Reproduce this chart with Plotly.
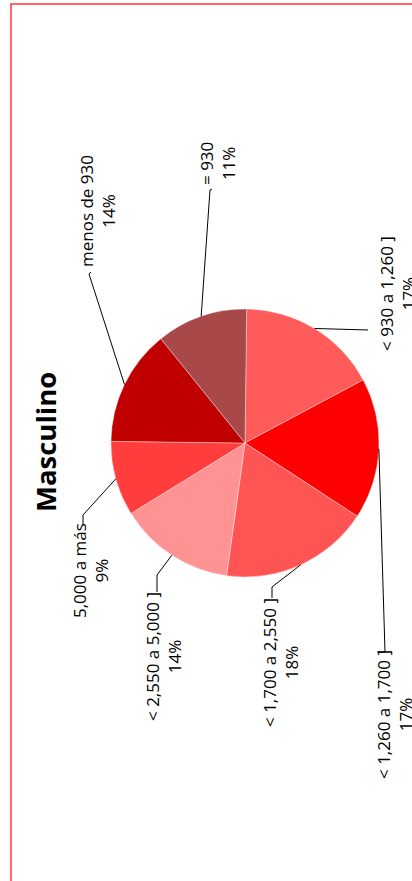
import math
import plotly.graph_objects as go

# ---- data (clockwise from 12 o'clock as drawn) ----
categories = ["< 930 a 1,260 ]", "< 1,260 a 1,700 ]", "< 1,700 a 2,550 ]",
              "< 2,550 a 5,000 ]", "5,000 a más", "menos de 930", "= 930"]
values = [17, 17, 18, 14, 9, 14, 11]
pct_labels = ["17%", "17%", "18%", "14%", "9%", "14%", "11%"]
title_text = "Masculino"

# ---- styling / layout ----
colors = ["#FF5B5B", "#FF0000", "#FF5454", "#FF9393", "#FF3D3D", "#C00000", "#A94848"]
W, H = 412, 881
CX, CY, R = 245, 443, 134          # pie centre / radius in page pixels
START = 0.7                         # start angle (deg, clockwise from 12 o'clock)

# label block centres (page px) and leader-line bends (page px), per slice
label_pos = [(398, 294), (394, 715), (280, 663), (163, 657), (90, 571), (98, 211), (217, 164)]
leader_bends = [
    [(368, 330)],
    [(385, 652), (377, 652)],
    [(272, 587), (272, 598)],
    [(157, 575), (157, 592)],
    [(83, 515), (83, 525)],
    [(89, 274), (91, 272)],
    [(210, 190), (212, 189)],
]


def px(x):
    return x / W


def py(y):
    return 1 - y / H


fig = go.Figure()
fig.add_trace(go.Pie(
    labels=categories, values=values, sort=False, direction="clockwise",
    rotation=START, textinfo="none", hoverinfo="label+percent",
    marker=dict(colors=colors, line=dict(color="rgba(255,255,255,0.6)", width=0.6)),
    domain=dict(x=[px(CX - R), px(CX + R)], y=[py(CY + R), py(CY - R)]),
    showlegend=False,
))

shapes = []
annotations = []
total = sum(values)
cum = 0.0
for i, v in enumerate(values):
    mid = START + 360.0 * (cum + v / 2) / total
    cum += v
    a = math.radians(mid)
    ex, ey = CX + R * math.sin(a), CY - R * math.cos(a)
    pts = [(ex, ey)] + leader_bends[i]
    path = "M " + " L ".join(f"{px(x):.5f},{py(y):.5f}" for x, y in pts)
    shapes.append(dict(type="path", xref="paper", yref="paper", path=path,
                       line=dict(color="black", width=1)))
    lx, ly = label_pos[i]
    annotations.append(dict(
        x=px(lx), y=py(ly), xref="paper", yref="paper", showarrow=False,
        text=f"{categories[i]}<br>{pct_labels[i]}", textangle=-90,
        xanchor="center", yanchor="middle", align="center",
        font=dict(family="Open Sans", size=17, color="black"),
    ))

annotations.append(dict(
    x=px(45), y=py(442), xref="paper", yref="paper", showarrow=False,
    text=f"<b>{title_text}</b>", textangle=-90, xanchor="center", yanchor="middle",
    font=dict(family="Open Sans", size=27.5, color="black"),
))

# outer frame (extends beyond right/bottom edges)
shapes.append(dict(type="rect", xref="paper", yref="paper",
                   x0=px(11), y0=py(4), x1=px(430), y1=py(900),
                   line=dict(color="#FF6666", width=2)))

fig.update_layout(
    width=W, height=H, margin=dict(l=0, r=0, t=0, b=0),
    paper_bgcolor="white", plot_bgcolor="white",
    shapes=shapes, annotations=annotations,
)
fig.write_html(
    "out.html",
    config={"displayModeBar": False},
    post_script="document.body.style.margin='0';document.body.style.overflow='hidden';",
)
